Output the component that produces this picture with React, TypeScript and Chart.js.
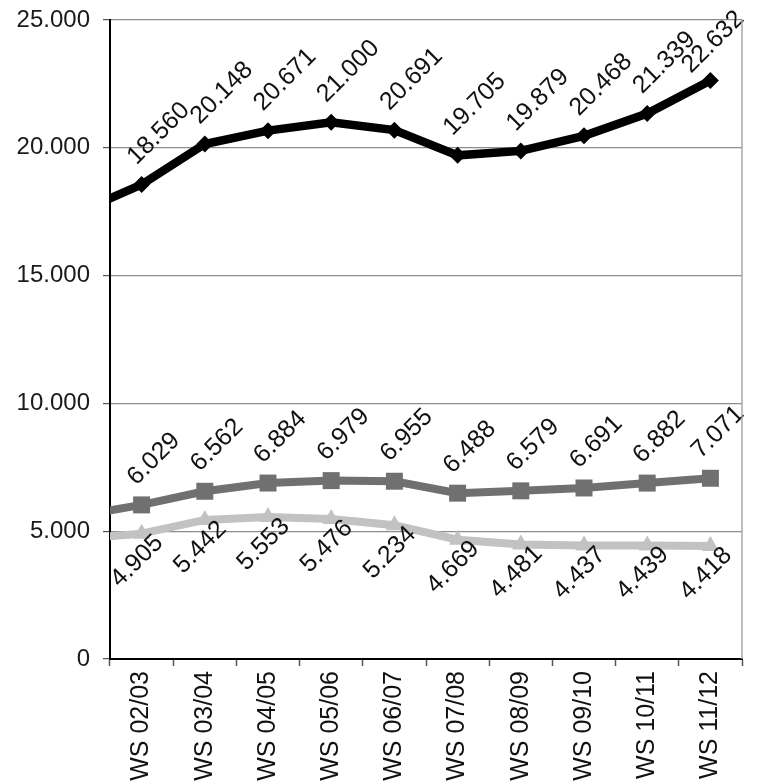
import React, { useEffect, useRef } from 'react';
import { Chart, registerables } from 'chart.js';

Chart.register(...registerables);

// First category lies left of the visible axis (the lines enter from the left edge)
const categories = [
  'WS 01/02', 'WS 02/03', 'WS 03/04', 'WS 04/05', 'WS 05/06', 'WS 06/07',
  'WS 07/08', 'WS 08/09', 'WS 09/10', 'WS 10/11', 'WS 11/12',
];
const firstVisibleCategory = 'WS 02/03';

const totalValues = [17480, 18560, 20148, 20671, 21000, 20691, 19705, 19879, 20468, 21339, 22632];
const middleValues = [5600, 6029, 6562, 6884, 6979, 6955, 6488, 6579, 6691, 6882, 7071];
const lowerValues = [4700, 4905, 5442, 5553, 5476, 5234, 4669, 4481, 4437, 4439, 4418];

const yMin = 0;
const yMax = 25000;
const yStep = 5000;

const FONT = '"Liberation Sans", Arial, sans-serif';

const fmt = (n: number) => String(Math.round(n)).replace(/\B(?=(\d{3})+(?!\d))/g, '.');

const valueLabels = {
  id: 'valueLabels',
  afterDatasetsDraw(chart: any) {
    const { ctx, chartArea } = chart;
    const c = Math.SQRT1_2;
    const size = 25;
    ctx.save();
    ctx.font = size + 'px ' + FONT;
    ctx.fillStyle = '#111';
    chart.data.datasets.forEach((ds: any, di: number) => {
      const meta = chart.getDatasetMeta(di);
      meta.data.forEach((pt: any, i: number) => {
        if (pt.x < chartArea.left) return;
        const text = fmt(ds.data[i]);
        const w = ctx.measureText(text).width;
        let sx: number, sy: number;
        if (ds.labelBelow) {
          const cx = pt.x - 6;
          const cy = pt.y + 26;
          const half = size * 0.36;
          sx = cx - (w / 2) * c + half * c;
          sy = cy + (w / 2) * c + half * c;
        } else {
          sx = pt.x - 5;
          sy = pt.y - 19;
        }
        let ex = sx + w * c;
        let ey = sy - w * c;
        const maxX = chartArea.right + 3;
        if (ex > maxX) {
          const d = ex - maxX;
          sx -= d; ex -= d;
        }
        if (ey < chartArea.top) {
          const d = chartArea.top - ey;
          sy += d; ey += d;
        }
        ctx.save();
        ctx.translate(sx, sy);
        ctx.rotate(-Math.PI / 4);
        ctx.textAlign = 'left';
        ctx.textBaseline = 'alphabetic';
        ctx.fillText(text, 0, 0);
        ctx.restore();
      });
    });
    ctx.restore();
  },
};

const rightBorder = {
  id: 'rightBorder',
  afterDraw(chart: any) {
    const { ctx, chartArea } = chart;
    ctx.save();
    ctx.strokeStyle = '#a8a8a8';
    ctx.lineWidth = 1.5;
    ctx.beginPath();
    ctx.moveTo(chartArea.right, chartArea.top);
    ctx.lineTo(chartArea.right, chartArea.bottom);
    ctx.stroke();
    ctx.restore();
  },
};

export default function App() {
  const ref = useRef<HTMLCanvasElement | null>(null);

  useEffect(() => {
    if (!ref.current) return;
    const clip = { left: 0, top: false, right: false, bottom: false };
    const chart = new Chart(ref.current, {
      type: 'line',
      data: {
        labels: categories,
        datasets: [
          {
            data: lowerValues,
            borderColor: '#c2c2c2',
            backgroundColor: '#c2c2c2',
            borderWidth: 8,
            pointStyle: 'triangle',
            pointRadius: 10,
            pointBorderWidth: 0,
            tension: 0,
            clip,
            labelBelow: true,
          } as any,
          {
            data: middleValues,
            borderColor: '#707070',
            backgroundColor: '#707070',
            borderWidth: 8,
            pointStyle: 'rect',
            pointRadius: 12,
            pointBorderWidth: 0,
            tension: 0,
            clip,
          } as any,
          {
            data: totalValues,
            borderColor: '#000000',
            backgroundColor: '#000000',
            borderWidth: 8.5,
            pointStyle: 'rectRot',
            pointRadius: 8.5,
            pointBorderWidth: 0,
            tension: 0,
            clip,
          } as any,
        ],
      },
      options: {
        animation: false,
        responsive: false,
        devicePixelRatio: 1,
        layout: { padding: { top: 20, right: 18, bottom: 0, left: 0 } },
        plugins: {
          legend: { display: false },
          tooltip: { enabled: false },
        },
        scales: {
          x: {
            type: 'category',
            min: firstVisibleCategory,
            offset: true,
            grid: {
              offset: true,
              drawOnChartArea: false,
              tickLength: 7,
              tickColor: '#555',
              tickWidth: 1.5,
            },
            border: { color: '#000', width: 2 },
            ticks: {
              autoSkip: false,
              minRotation: 90,
              maxRotation: 90,
              padding: 5,
              color: '#111',
              font: { size: 25, family: FONT },
            },
            afterFit: (s: any) => { s.height = 125; s.paddingLeft = 0; s.paddingRight = 0; },
          },
          y: {
            min: yMin,
            max: yMax,
            ticks: {
              stepSize: yStep,
              padding: 13,
              color: '#1a1a1a',
              font: { size: 24, family: FONT },
              callback: (v: any) => fmt(Number(v)),
            },
            grid: {
              color: '#8c8c8c',
              lineWidth: 1.2,
              tickLength: 7,
              tickColor: '#555',
            },
            border: { color: '#000', width: 2 },
            afterFit: (s: any) => { s.width = 110; s.paddingTop = 0; s.paddingBottom = 0; },
          },
        },
      } as any,
      plugins: [valueLabels, rightBorder],
    });
    return () => chart.destroy();
  }, []);

  return (
    <div style={{ position: 'absolute', left: 0, top: 0, width: 760, height: 784, background: '#fff' }}>
      <canvas ref={ref} width={760} height={784} style={{ width: 760, height: 784 }} />
    </div>
  );
}
